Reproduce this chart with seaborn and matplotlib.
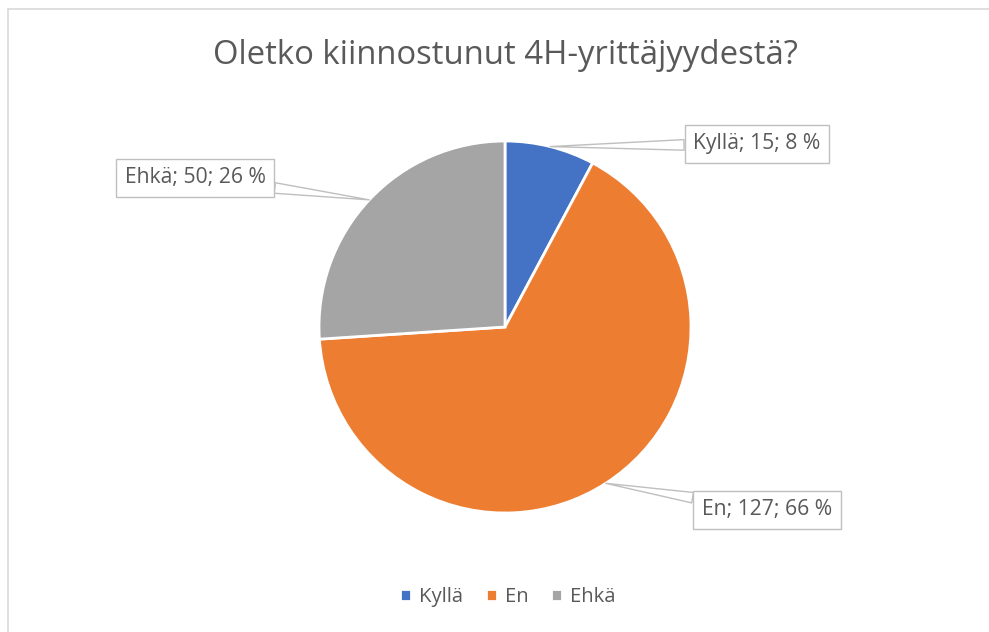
import matplotlib
matplotlib.use("Agg")
import matplotlib.pyplot as plt
from matplotlib.lines import Line2D
import numpy as np
import seaborn as sns

# data
categories = ["Kyllä", "En", "Ehkä"]
counts = [15, 127, 50]
colors = ["#4472C4", "#ED7D31", "#A5A5A5"]
title = "Oletko kiinnostunut 4H-yrittäjyydestä?"

sns.set_theme(style="white")
plt.rcParams['font.family'] = ['Open Sans', 'DejaVu Sans']
text_color = "#595959"

W, H = 989, 632
fig = plt.figure(figsize=(W / 100, H / 100), dpi=100)
ax = fig.add_axes([0, 0, 1, 1])

cx, cy, r = 505, H - 327, 186
wedges, _ = ax.pie(counts, colors=colors, startangle=90, counterclock=False,
                   center=(cx, cy), radius=r, frame=True,
                   wedgeprops=dict(edgecolor="white", linewidth=2))
ax.set_xlim(0, W)
ax.set_ylim(0, H)
ax.set_aspect("equal")
ax.axis("off")

total = sum(counts)
# label box centres (pixel coords from top)
box_pos = {"Kyllä": (757, 144), "En": (767, 510), "Ehkä": (195, 178)}
for w, cat, n in zip(wedges, categories, counts):
    mid = np.deg2rad((w.theta1 + w.theta2) / 2)
    pt = (cx + r * np.cos(mid), cy + r * np.sin(mid))
    bx, by = box_pos[cat]
    pct = round(100 * n / total)
    ax.annotate(f"{cat}; {n}; {pct} %", xy=pt, xytext=(bx, H - by),
                ha="center", va="center", fontsize=15.2, color=text_color,
                bbox=dict(boxstyle="square,pad=0.42", fc="white", ec="#BFBFBF", lw=1),
                arrowprops=dict(arrowstyle="wedge,tail_width=0.5,shrink_factor=0.5",
                                fc="white", ec="#BFBFBF", lw=1,
                                shrinkA=0, shrinkB=0))

fig.text(505 / W, 1 - 56 / H, title, ha="center", va="center",
         fontsize=23.7, color=text_color)

leg = ax.legend(wedges, categories, loc="center", ncol=3, frameon=False,
                bbox_to_anchor=(508 / W, 1 - 597 / H), bbox_transform=fig.transFigure,
                handlelength=0.55, handleheight=0.55, handletextpad=0.4,
                columnspacing=1.1, fontsize=14.6)
for t in leg.get_texts():
    t.set_color(text_color)

# chart border (left and top)
fig.add_artist(Line2D([7.5 / W, 7.5 / W], [0, 1 - 9 / H], color="#D9D9D9", lw=1.2))
fig.add_artist(Line2D([7.5 / W, 1], [1 - 9 / H, 1 - 9 / H], color="#D9D9D9", lw=1.2))

fig.savefig("out.png", dpi=100, facecolor="white")
